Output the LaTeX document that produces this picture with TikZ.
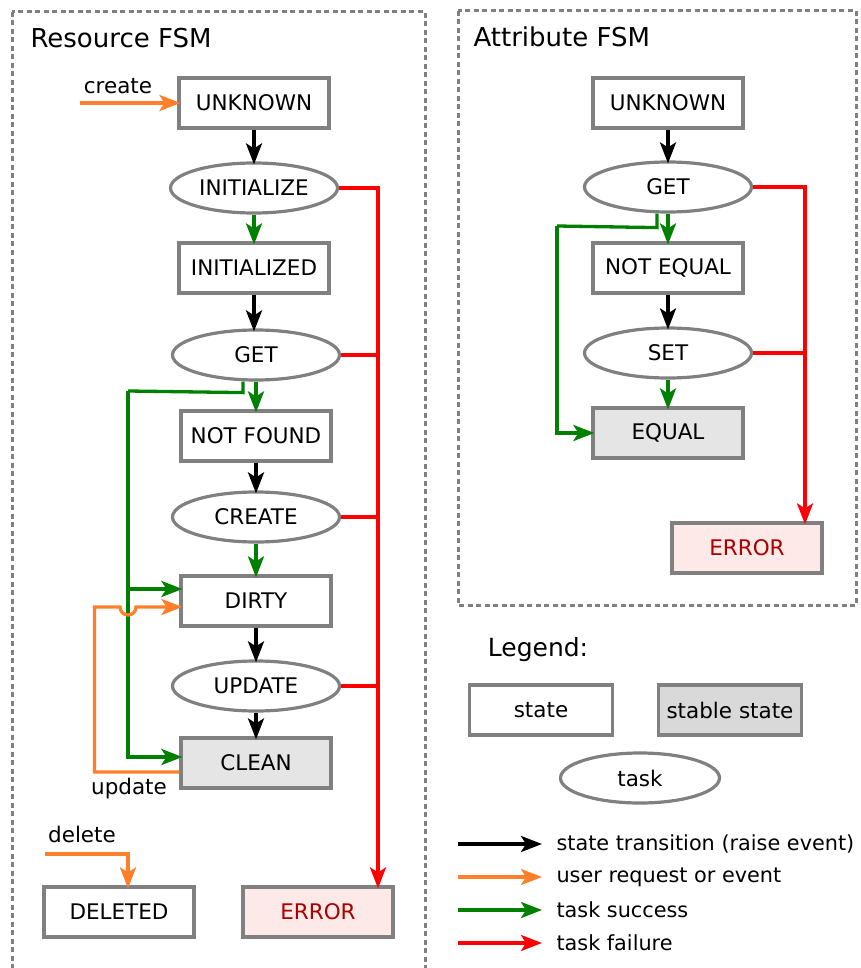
\documentclass[tikz,border=0pt]{standalone}
\usepackage{fontspec}
\setmainfont{DejaVu Sans}
\usetikzlibrary{shapes.geometric,arrows.meta}
\definecolor{usrorange}{HTML}{FF7F2A}
\definecolor{okgreen}{HTML}{008000}
\definecolor{boxgray}{HTML}{808080}
\definecolor{stablefill}{HTML}{E5E5E5}
\definecolor{legfill}{HTML}{D9D9D9}
\definecolor{errfill}{HTML}{FDE9E7}
\definecolor{errtext}{HTML}{AA0000}

\begin{document}
\begin{tikzpicture}[x=1pt, y=-1pt, every node/.style={font=\fontsize{21.5}{26}\selectfont},
	state/.style={draw=boxgray, line width=3.2pt, minimum width=150pt, minimum height=50pt, inner sep=0pt},
	stable/.style={state, fill=stablefill},
	errstate/.style={state, fill=errfill, text=errtext},
	task/.style={ellipse, draw=boxgray, line width=3.2pt, minimum width=167pt, minimum height=50pt, inner sep=0pt},
	frame/.style={draw=boxgray, line width=3pt, dash pattern=on 5pt off 3.5pt},
	title/.style={anchor=west, font=\fontsize{26}{30}\selectfont},
	legtext/.style={anchor=west, font=\fontsize{20.8}{25}\selectfont},
	wire/.style={line width=3.3pt},
	tip/.style={-{Stealth[length=21pt,width=16pt,inset=5pt]}, shorten >=-3pt},
	trans/.style={wire, tip, black},
	user/.style={wire, tip, usrorange},
	ok/.style={wire, tip, okgreen},
	fail/.style={wire, tip, red},
	failbr/.style={wire, red},
	okbr/.style={wire, okgreen}]
	\useasboundingbox (0,0) rectangle (860,968);

	% frames
	\draw[frame] (12,12) rectangle (425,990);
	\draw[frame] (458,11) rectangle (856,605);
	\node[title] (rtitle) at (27,38) {Resource FSM};
	\node[title] (atitle) at (470,37) {Attribute FSM};

	% resource FSM
	\node[state] (unk) at (254,103) {UNKNOWN};
	\node[task] (init) at (254,188) {INITIALIZE};
	\node[state] (inid) at (254,268) {INITIALIZED};
	\node[task] (get) at (256,355) {GET};
	\node[state] (nf) at (256,436) {NOT FOUND};
	\node[task] (cre) at (256,517) {CREATE};
	\node[state] (dirty) at (256,601) {DIRTY};
	\node[task] (upd) at (256,686) {UPDATE};
	\node[stable] (clean) at (256,763) {CLEAN};
	\node[state] (del) at (119,912) {DELETED};
	\node[errstate] (err) at (318,912) {ERROR};

	\node (lcreate) at (118,86) {create};
	\node (lupdate) at (129,789) {update};
	\node (ldelete) at (82,834) {delete};

	\coordinate (cs) at (80,103);
	\coordinate (ds) at (45,854);
	\coordinate (rbus) at (378,188);
	\coordinate (gbus) at (128,391);
	\coordinate (gdirty) at ([yshift=12pt]dirty.west);

	\draw[user] (cs) -- (unk.west);
	\draw[trans] (unk) -- (init);
	\draw[ok] (init) -- (init |- inid.north);
	\draw[trans] (inid) -- (inid |- get.north);
	\draw[ok] (get) -- (nf);
	\draw[trans] (nf) -- (cre);
	\draw[ok] (cre) -- (dirty);
	\draw[trans] (dirty) -- (upd);
	\draw[trans] (upd) -- (clean);

	\draw[okbr] ([xshift=-13pt]get.south) -- ++(0,11) -- (gbus);
	\draw[ok] (gbus) |- ([yshift=6pt]clean.west);
	\draw[ok] (gbus |- gdirty) -- (gdirty);
	\draw[user] ([yshift=-9pt]clean.west) -- ++(-85,0) |- (120,607)
		arc[start angle=180, end angle=360, radius=8pt] -- ([yshift=-6pt]dirty.west);
	\draw[user] (ds) -| ([xshift=9pt]del.north);

	\draw[fail] (init.east) -- (rbus) -- (rbus |- err.north);
	\draw[failbr] (get.east) -- (get.east -| rbus);
	\draw[failbr] (cre.east) -- (cre.east -| rbus);
	\draw[failbr] (upd.east) -- (upd.east -| rbus);

	% attribute FSM
	\node[state] (aunk) at (668,103) {UNKNOWN};
	\node[task] (aget) at (668,187) {GET};
	\node[state] (ane) at (668,268) {NOT EQUAL};
	\node[task] (aset) at (668,353) {SET};
	\node[stable] (aeq) at (668,433) {EQUAL};
	\node[errstate] (aerr) at (747,548) {ERROR};

	\coordinate (abus) at (805,187);
	\coordinate (agbus) at (557,226);

	\draw[trans] (aunk) -- (aget);
	\draw[ok] (aget) -- (ane);
	\draw[trans] (ane) -- (aset);
	\draw[ok] (aset) -- (aeq);
	\draw[okbr] ([xshift=-11pt]aget.south) -- ++(0,14) -- (agbus);
	\draw[ok] (agbus) |- (aeq.west);
	\draw[fail] (aget.east) -- (abus) -- (abus |- aerr.north);
	\draw[failbr] (aset.east) -- (aset.east -| abus);

	% legend
	\node[font=\fontsize{25}{30}\selectfont] (leg) at (538,650) {Legend:};
	\node[state, minimum width=143pt] (lst) at (541,710) {state};
	\node[state, fill=legfill, minimum width=143pt] (lss) at (730,710) {stable state};
	\node[task, minimum width=159pt] (ltk) at (640,778) {task};

	\node[legtext] (l1) at (553,844) {state transition (raise event)};
	\node[legtext] (l2) at (553,877) {user request or event};
	\node[legtext] (l3) at (553,910) {task success};
	\node[legtext] (l4) at (553,943) {task failure};
	\coordinate (a1) at (458,844);
	\coordinate (a2) at (458,877);
	\coordinate (a3) at (458,910);
	\coordinate (a4) at (458,943);
	\draw[trans, shorten >=0pt] (a1) -- ++(84,0);
	\draw[user, shorten >=0pt] (a2) -- ++(84,0);
	\draw[ok, shorten >=0pt] (a3) -- ++(84,0);
	\draw[fail, shorten >=0pt] (a4) -- ++(84,0);
\end{tikzpicture}
\end{document}
